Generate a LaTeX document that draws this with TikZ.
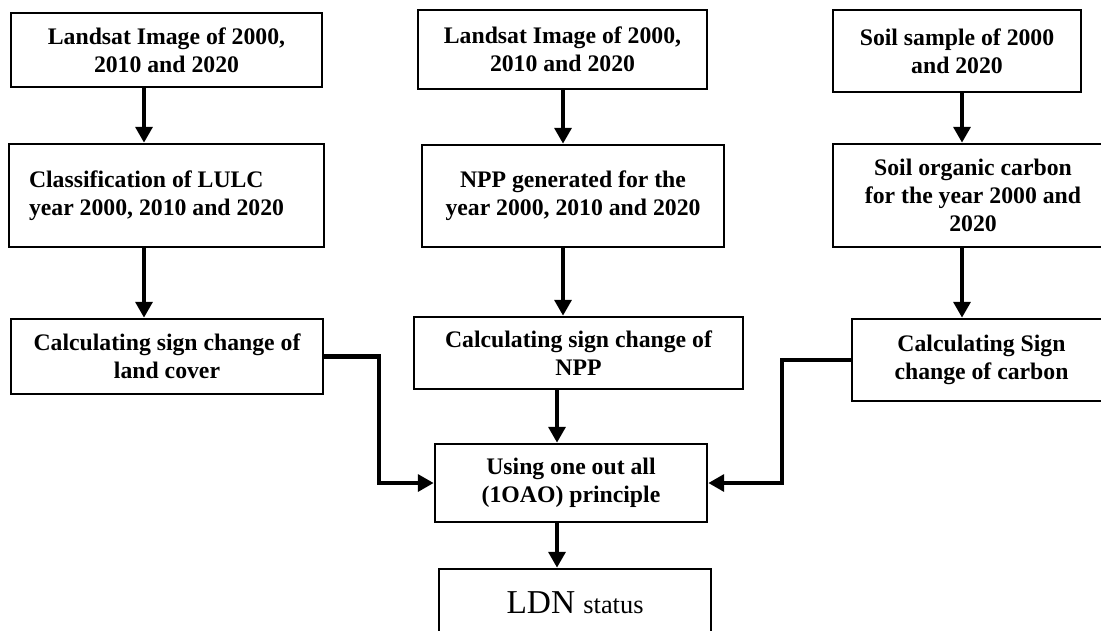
\documentclass[tikz,border=0pt]{standalone}
\usepackage{fontspec}
\setmainfont{Liberation Serif}
\usepackage{tikz}
\usetikzlibrary{arrows.meta, positioning}

\tikzset{
  stage/.style={draw, line width=1.5pt, align=center, inner sep=2pt,
    font={\fontsize{13.5}{16}\selectfont\bfseries}},
  flow/.style={line width=2.3pt, -{Triangle[length=9pt,width=9.5pt]}},
}

\begin{document}
\begin{tikzpicture}[x=0.02cm, y=-0.02cm]
  \useasboundingbox (0,0) rectangle (1101,630);
  \clip (0,0) rectangle (1101,630);
  %% arrow columns and bends
  \coordinate (colL) at (144,0);
  \coordinate (colM) at (563,0);
  \coordinate (colC) at (557,0);
  \coordinate (colR) at (962,0);
  \coordinate (bendL) at (379,0);
  \coordinate (bendR) at (782,0);
  %% left column: land cover
  \node[stage, minimum width=6.22cm, minimum height=1.48cm] (lulcImg) at (166.5,50)
    {Landsat Image of 2000,\\2010 and 2020};
  \node[stage, align=flush left, text width=5.5cm, inner xsep=0.4cm, minimum height=2.06cm] (lulcCls) at (166.5,195.5)
    {Classification of LULC\\year 2000, 2010 and 2020};
  \node[stage, minimum width=6.24cm, minimum height=1.50cm] (lulcChg) at (167,356.5)
    {Calculating sign change of\\land cover};
  %% middle column: NPP
  \node[stage, minimum width=5.78cm, minimum height=1.58cm] (nppImg) at (562.5,49.5)
    {Landsat Image of 2000,\\2010 and 2020};
  \node[stage, minimum width=6.04cm, minimum height=2.04cm] (nppGen) at (573,196)
    {NPP generated for the\\year 2000, 2010 and 2020};
  \node[stage, minimum width=6.58cm, minimum height=1.44cm] (nppChg) at (578.5,353)
    {Calculating sign change of\\NPP};
  %% right column: soil carbon
  \node[stage, minimum width=4.96cm, minimum height=1.64cm] (socSmp) at (957,51)
    {Soil sample of 2000\\and 2020};
  \node[stage, minimum width=5.60cm, minimum height=2.06cm] (socYr) at (973,195.5)
    {Soil organic carbon\\for the year 2000 and\\2020};
  \node[stage, minimum width=5.18cm, minimum height=1.64cm] (socChg) at (981.5,360)
    {Calculating Sign\\change of carbon};
  %% combination and result
  \node[stage, minimum width=5.44cm, minimum height=1.56cm] (oneOut) at (571,483)
    {Using one out all\\(1OAO) principle};
  \node[stage, font={\fontsize{19}{22}\selectfont}, minimum width=5.44cm, minimum height=1.36cm] (ldn) at (575,603)
    {LDN {\fontsize{15}{18}\selectfont status}};
  %% connectors
  \draw[flow] (lulcImg.south -| colL) -- (lulcCls.north -| colL);
  \draw[flow] (lulcCls.south -| colL) -- (lulcChg.north -| colL);
  \draw[flow] (nppImg.south -| colM) -- (nppGen.north -| colM);
  \draw[flow] (nppGen.south -| colM) -- (nppChg.north -| colM);
  \draw[flow] (socSmp.south -| colR) -- (socYr.north -| colR);
  \draw[flow] (socYr.south -| colR) -- (socChg.north -| colR);
  \draw[flow] (nppChg.south -| colC) -- (oneOut.north -| colC);
  \draw[flow] (oneOut.south -| colC) -- (ldn.north -| colC);
  \draw[flow] (lulcChg.east) -- (lulcChg.east -| bendL) |- (oneOut.west);
  \draw[flow] (socChg.west) -- (socChg.west -| bendR) |- (oneOut.east);
\end{tikzpicture}
\end{document}
